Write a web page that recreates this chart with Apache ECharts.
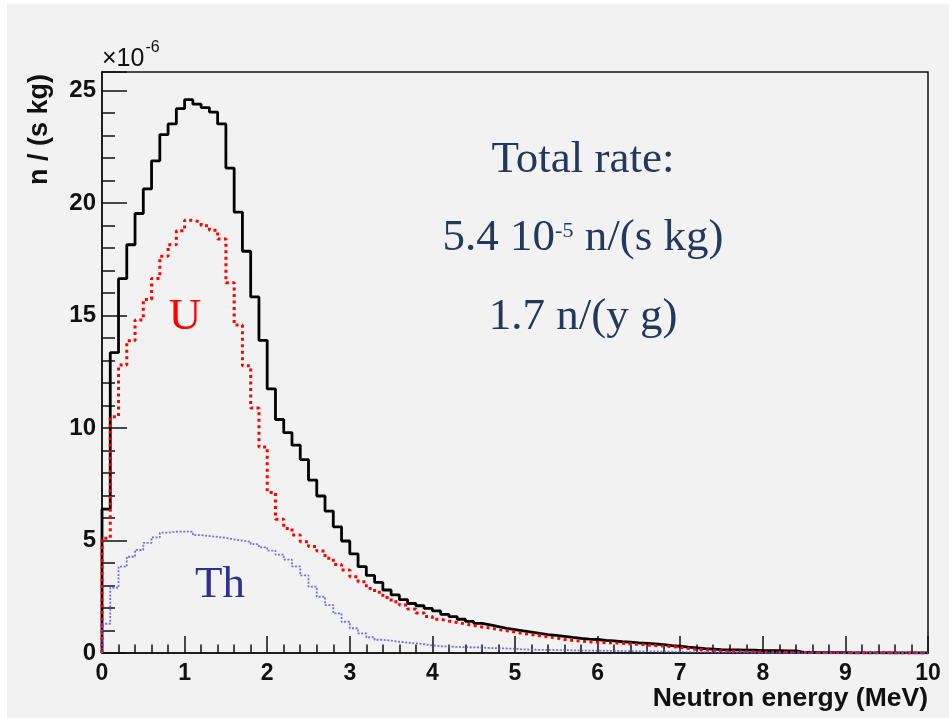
<!DOCTYPE html>
<html>
<head>
<meta charset="utf-8">
<script src="https://cdn.jsdelivr.net/npm/echarts@6/dist/echarts.min.js"></script>
<style>html,body{margin:0;padding:0;background:#fff;}#c{width:949px;height:718px;}</style>
</head>
<body>
<div id="c"></div>
<script>
// Histogram bins: 0.1 MeV wide, from 0 to 10 MeV; values in units of 1e-6 n/(s kg)
const binStart = 0;
const binWidth = 0.1;
const xTicks = [0,1,2,3,4,5,6,7,8,9,10];
const yTicks = [0,5,10,15,20,25];
const yMax = 25.83;

const total = [
6.4, 13.35, 16.64, 18.15, 19.54, 20.63, 21.88, 23.05, 23.52, 24.2,
24.6, 24.4, 24.25, 24.05, 23.52, 21.56, 19.6, 17.86, 15.83, 13.9,
11.74, 10.38, 9.8, 9.24, 8.6, 7.69, 6.98, 6.31, 5.61, 4.98,
4.41, 3.84, 3.45, 3.14, 2.8, 2.58, 2.37, 2.2, 2.1, 1.98,
1.87, 1.72, 1.62, 1.5, 1.41, 1.32, 1.25, 1.17, 1.1, 1.04,
0.98, 0.93, 0.87, 0.82, 0.78, 0.74, 0.69, 0.65, 0.62, 0.6,
0.56, 0.54, 0.5, 0.48, 0.45, 0.43, 0.4, 0.37, 0.33, 0.3,
0.26, 0.23, 0.19, 0.17, 0.15, 0.14, 0.14, 0.13, 0.13, 0.1,
0.1, 0.1, 0.09, 0.09, 0.03, 0.03, 0.02, 0.02, 0.02, 0.02,
0.01, 0.01, 0.01, 0.01, 0.01, 0.01, 0.005, 0.005, 0.005, 0.005
];
const uranium = [
5.1, 10.5, 12.8, 13.88, 14.81, 15.72, 16.65, 17.64, 18.15, 18.77,
19.24, 19.16, 19.0, 18.8, 18.4, 16.46, 14.58, 12.77, 10.89, 9.16,
7.14, 5.95, 5.54, 5.25, 4.95, 4.73, 4.53, 4.21, 3.94, 3.69,
3.39, 3.17, 2.87, 2.7, 2.47, 2.28, 2.13, 1.96, 1.78, 1.62,
1.5, 1.42, 1.36, 1.29, 1.22, 1.16, 1.11, 1.04, 0.99, 0.93,
0.87, 0.82, 0.77, 0.72, 0.67, 0.6, 0.56, 0.53, 0.5, 0.48,
0.46, 0.45, 0.43, 0.41, 0.38, 0.36, 0.33, 0.31, 0.28, 0.25,
0.2, 0.17, 0.14, 0.12, 0.1, 0.08, 0.07, 0.06, 0.05, 0.04,
0.035, 0.03, 0.03, 0.025, 0.02, 0.02, 0.015, 0.015, 0.01, 0.01,
0.01, 0.008, 0.008, 0.006, 0.006, 0.005, 0.004, 0.004, 0.003, 0.003
];
const thorium = [
1.3, 2.9, 3.84, 4.28, 4.58, 4.9, 5.14, 5.35, 5.39, 5.4,
5.39, 5.24, 5.2, 5.16, 5.12, 5.05, 5.0, 4.95, 4.84, 4.7,
4.55, 4.37, 4.15, 3.85, 3.45, 2.95, 2.5, 2.13, 1.76, 1.39,
1.1, 0.87, 0.7, 0.59, 0.55, 0.5, 0.46, 0.43, 0.39, 0.34,
0.3, 0.29, 0.27, 0.26, 0.25, 0.24, 0.22, 0.21, 0.2, 0.19,
0.16, 0.15, 0.14, 0.14, 0.13, 0.13, 0.12, 0.11, 0.11, 0.1,
0.1, 0.09, 0.09, 0.08, 0.08, 0.07, 0.07, 0.06, 0.06, 0.05,
0.04, 0.04, 0.04, 0.03, 0.03, 0.03, 0.03, 0.02, 0.02, 0.02,
0.02, 0.02, 0.015, 0.015, 0.01, 0.01, 0.01, 0.01, 0.01, 0.01,
0.008, 0.008, 0.006, 0.006, 0.005, 0.005, 0.004, 0.004, 0.003, 0.003
];

const labelTotal1 = 'Total rate:';
const labelTotal2a = '5.4 10';
const labelTotal2b = '-5';
const labelTotal2c = ' n/(s kg)';
const labelTotal3 = '1.7 n/(y g)';
const labelU = 'U';
const labelTh = 'Th';
const yTitle = 'n / (s kg)';
const xTitle = 'Neutron energy (MeV)';
const yExpBase = '\u00d710';
const yExp = '-6';

function histPoints(vals) {
  const pts = [[binStart, 0]];
  for (let i = 0; i < vals.length; i++) pts.push([binStart + i * binWidth, vals[i]]);
  pts.push([binStart + vals.length * binWidth, vals[vals.length - 1]]);
  return pts;
}

const measureCtx = document.createElement('canvas').getContext('2d');
function tw(font, s) { measureCtx.font = font; return measureCtx.measureText(s).width; }

const serif = '"Liberation Serif", "Times New Roman", serif';
const bigFont = '45px ' + serif;
const supFont = '22px ' + serif;
const navy = '#23395b';
const cx = 583;

const w2a = tw(bigFont, labelTotal2a), w2b = tw(supFont, labelTotal2b), w2c = tw(bigFont, labelTotal2c);
const start2 = cx - (w2a + w2b + w2c) / 2;

const sansB = '"Liberation Sans", Arial, sans-serif';
const expBaseFont = '25px ' + sansB;
const wExpBase = tw(expBaseFont, yExpBase);

const chart = echarts.init(document.getElementById('c'), null, {renderer: 'canvas'});
chart.setOption({
  animation: false,
  backgroundColor: '#f2f2f2',
  grid: {left: 102, top: 72, right: 21, bottom: 65, show: true, borderColor: '#111', borderWidth: 1.5, backgroundColor: 'transparent'},
  xAxis: {
    type: 'value', min: xTicks[0], max: xTicks[xTicks.length - 1], interval: 1,
    axisLine: {show: true, onZero: false, lineStyle: {color: '#111', width: 1.5}},
    axisTick: {show: true, inside: true, length: 17, lineStyle: {color: '#111', width: 1.5}},
    minorTick: {show: true, splitNumber: 5, length: 8.5, lineStyle: {color: '#111', width: 1.5}},
    splitLine: {show: false},
    axisLabel: {margin: 9, color: '#111', fontFamily: sansB, fontWeight: 'bold', fontSize: 23,
      formatter: v => (xTicks.indexOf(v) >= 0 ? String(v) : '')}
  },
  yAxis: [{
    type: 'value', min: 0, max: yMax, interval: 5,
    axisLine: {show: true, onZero: false, lineStyle: {color: '#111', width: 1.5}},
    axisTick: {show: true, inside: true, length: 25, lineStyle: {color: '#111', width: 1.5}},
    splitLine: {show: false},
    axisLabel: {margin: 6, color: '#111', fontFamily: sansB, fontWeight: 'bold', fontSize: 24,
      showMaxLabel: true,
      formatter: v => (yTicks.indexOf(v) >= 0 ? String(v) : '')}
  }, {
    type: 'value', min: 0, max: yMax, interval: 1, position: 'left',
    axisLine: {show: false},
    axisTick: {show: true, inside: true, length: 13, lineStyle: {color: '#111', width: 1.5}},
    splitLine: {show: false},
    axisLabel: {show: false}
  }],
  series: [
    {type: 'line', name: 'Total', data: histPoints(total), step: 'end', showSymbol: false, symbol: 'none',
     lineStyle: {color: '#000', width: 2.8}, z: 3},
    {type: 'line', name: 'U', data: histPoints(uranium), step: 'end', showSymbol: false, symbol: 'none',
     lineStyle: {color: '#ff0000', width: 3, type: [3, 3.5], cap: 'butt'}, z: 4},
    {type: 'line', name: 'Th', data: histPoints(thorium), step: 'end', showSymbol: false, symbol: 'none',
     lineStyle: {color: '#5a5ae0', width: 1.8, type: [2, 1.6], cap: 'butt', opacity: 0.85}, z: 4}
  ],
  graphic: [
    {type: 'rect', shape: {x: 0, y: 0, width: 949, height: 4}, style: {fill: '#ffffff'}, z: -1, silent: true},
    {type: 'rect', shape: {x: 0, y: 0, width: 7, height: 718}, style: {fill: '#ffffff'}, z: -1, silent: true},
    {type: 'text', x: cx, y: 160, style: {text: labelTotal1, font: bigFont, fill: navy, textAlign: 'center', textVerticalAlign: 'middle'}},
    {type: 'text', x: start2, y: 238, style: {text: labelTotal2a, font: bigFont, fill: navy, textAlign: 'left', textVerticalAlign: 'middle'}},
    {type: 'text', x: start2 + w2a, y: 231, style: {text: labelTotal2b, font: supFont, fill: navy, textAlign: 'left', textVerticalAlign: 'middle'}},
    {type: 'text', x: start2 + w2a + w2b, y: 238, style: {text: labelTotal2c, font: bigFont, fill: navy, textAlign: 'left', textVerticalAlign: 'middle'}},
    {type: 'text', x: cx, y: 317, style: {text: labelTotal3, font: bigFont, fill: navy, textAlign: 'center', textVerticalAlign: 'middle'}},
    {type: 'text', x: 185, y: 317, style: {text: labelU, font: bigFont, fill: '#ff0000', textAlign: 'center', textVerticalAlign: 'middle'}},
    {type: 'text', x: 220, y: 585, style: {text: labelTh, font: bigFont, fill: '#2e3192', textAlign: 'center', textVerticalAlign: 'middle'}},
    {type: 'text', x: 40, y: 74, rotation: Math.PI / 2, style: {text: yTitle, font: 'bold 27px ' + sansB, fill: '#111', textAlign: 'right', textVerticalAlign: 'middle'}},
    {type: 'text', x: 928, y: 685, style: {text: xTitle, font: 'bold 26.5px ' + sansB, fill: '#111', textAlign: 'right', textVerticalAlign: 'top'}},
    {type: 'text', x: 102, y: 59, style: {text: yExpBase, font: expBaseFont, fill: '#111', textAlign: 'left', textVerticalAlign: 'middle'}},
    {type: 'text', x: 102 + wExpBase + 1, y: 48, style: {text: yExp, font: '16px ' + sansB, fill: '#111', textAlign: 'left', textVerticalAlign: 'middle'}}
  ]
});
</script>
</body>
</html>
